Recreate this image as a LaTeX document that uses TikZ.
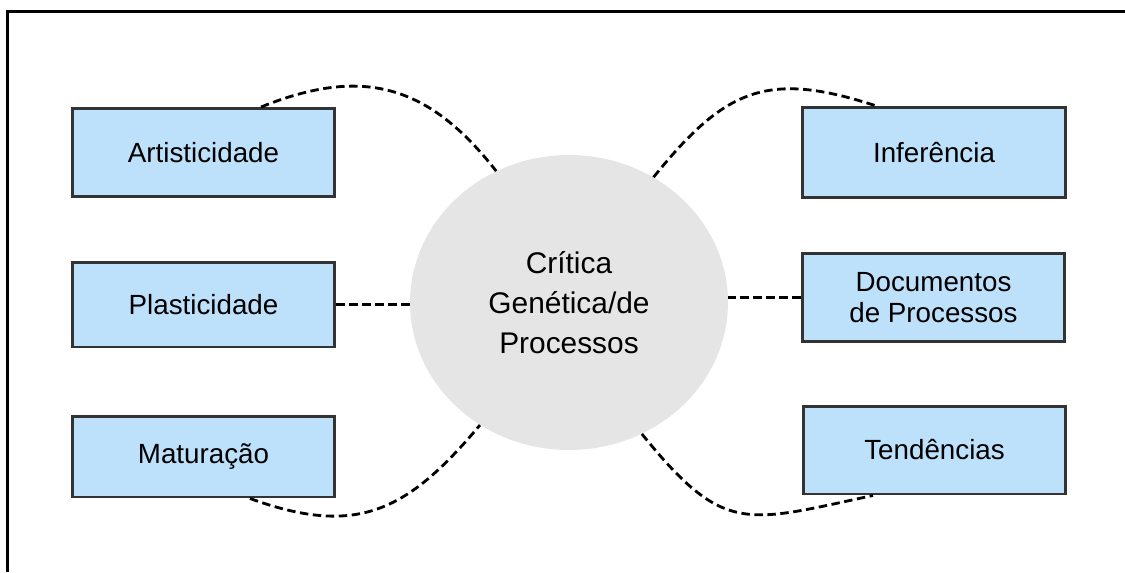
\documentclass[tikz,border=0pt]{standalone}
\usepackage{fontspec}
\setmainfont{Liberation Sans}
\usetikzlibrary{calc,shapes.geometric}

\definecolor{boxblue}{HTML}{BEE1FB}
\definecolor{boxline}{HTML}{333333}
\definecolor{hubgray}{HTML}{E5E5E5}

\begin{document}
\begin{tikzpicture}[x=0.02cm,y=0.02cm,
    box/.style={draw=boxline,line width=1.7pt,fill=boxblue,minimum width=5.26cm,
        inner sep=0pt,align=center,font=\fontsize{15.8}{17.8}\selectfont},
    hub/.style={ellipse,fill=hubgray,minimum width=6.36cm,minimum height=5.9cm,
        inner sep=0pt,align=center,font=\fontsize{17}{22.8}\selectfont},
    link/.style={line width=1.6pt,dash pattern=on 4.8pt off 2.6pt}]
        \useasboundingbox (0,0) rectangle (1125,572);

        % frame (cut at right and bottom)
        \draw[line width=1.7pt] (7.5,0) -- (7.5,560.5) -- (1130,560.5);

        \node[hub] (crit) at (569,269.5) {Crítica\\Genética/de\\Processos};

        \node[box,minimum height=1.76cm] (art) at (203.5,419.5) {Artisticidade};
        \node[box,minimum height=1.70cm] (pla) at (203.5,267.5) {Plasticidade};
        \node[box,minimum height=1.62cm] (mat) at (203.5,115.5) {Maturação};

        \node[box,minimum height=1.82cm] (inf) at (934,419.5) {Inferência};
        \node[box,minimum height=1.78cm] (doc) at (933.5,274.5) {Documentos\\de Processos};
        \node[box,minimum height=1.76cm] (ten) at (934.5,122) {Tendências};

        % straight links
        \draw[link] (pla.east) -- (pla.east -| crit.west);
        \draw[link] (doc.west) -- (doc.west -| crit.east);

        % curved links
        \draw[link] ($(art.north)+(57.5,0)$) to[out=22,in=128,looseness=1.15] (crit.119.5);
        \draw[link] (crit.56.5) to[out=51,in=162,looseness=1.25] ($(inf.north)+(-59,0)$);
        \draw[link] ($(mat.south)+(46.5,0)$) to[out=-20,in=-130,looseness=1.2] (crit.234);
        \draw[link] (crit.299.5) to[out=-51,in=-168,looseness=1.4] ($(ten.south)+(-61.5,0)$);
\end{tikzpicture}
\end{document}
